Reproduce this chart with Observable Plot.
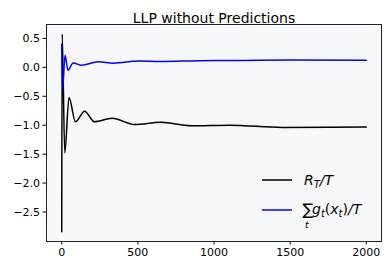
<!DOCTYPE html>
<html>
<head>
<meta charset="utf-8">
<script src="https://cdn.jsdelivr.net/npm/d3@7"></script>
<script src="https://cdn.jsdelivr.net/npm/@observablehq/plot@0.6"></script>
<style>
  html, body { margin: 0; padding: 0; background: #fff; }
  #chart svg { display: block; }
</style>
</head>
<body>
<div id="chart"></div>
<script>
const title = "LLP without Predictions";
// R_T/T series (black)
const regretT = [0, 3, 20, 48, 90, 150, 215, 330, 480, 650, 850, 1100, 1450, 1750, 2000];
const regretV = [-2.84, 0.57, -1.48, -0.52, -0.94, -0.76, -0.94, -0.88, -0.99, -0.95, -1.01, -1.0, -1.04, -1.035, -1.03];
// sum g_t(x_t)/T series (blue)
const gT = [0, 5, 22, 41, 75, 130, 240, 340, 510, 650, 900, 1200, 1500, 2000];
const gV = [0.40, -0.40, 0.21, -0.05, 0.075, 0.035, 0.095, 0.072, 0.11, 0.10, 0.115, 0.12, 0.125, 0.12];
const xTicks = [0, 500, 1000, 1500, 2000];
const yTicks = [0.5, 0.0, -0.5, -1.0, -1.5, -2.0, -2.5];

const black = regretT.map((t, i) => ({t, v: regretV[i]}));
const blue = gT.map((t, i) => ({t, v: gV[i]}));

const fmtY = d => (d < 0 ? "\u2212" : "") + Math.abs(d).toFixed(1);

const plot = Plot.plot({
  width: 389,
  height: 268,
  marginTop: 24,
  marginBottom: 27,
  marginLeft: 46,
  marginRight: 8,
  style: {fontFamily: "DejaVu Sans", fontSize: "11px", color: "#000", background: "#fff"},
  x: {domain: [-100, 2100], ticks: xTicks, tickSize: 3.5, tickPadding: 3, label: null, tickFormat: d => String(d)},
  y: {domain: [-3.01, 0.74], ticks: yTicks, tickSize: 3.5, tickPadding: 3, label: null, tickFormat: fmtY},
  marks: [
    Plot.frame({fill: "#f7f8fb", stroke: null}),
    Plot.line(black, {x: "t", y: "v", stroke: "#000", strokeWidth: 1.5, curve: "monotone-x"}),
    Plot.line(blue, {x: "t", y: "v", stroke: "#0000ff", strokeWidth: 1.5, curve: "monotone-x"}),
    Plot.frame({stroke: "#222", strokeWidth: 1}),
    Plot.text([title], {frameAnchor: "top", dy: -11, fontSize: 14, fill: "#000"})
  ]
});
document.getElementById("chart").appendChild(plot);

// legend (inside lower right, no frame)
const svg = d3.select(plot);
const lg = svg.append("g").attr("font-family", "DejaVu Sans").attr("fill", "#000").attr("text-anchor", "start");
lg.append("line").attr("x1", 262).attr("x2", 292).attr("y1", 180).attr("y2", 180)
  .attr("stroke", "#000").attr("stroke-width", 1.5);
const t1 = lg.append("text").attr("x", 304).attr("y", 185).attr("font-size", 14).attr("font-style", "italic");
t1.append("tspan").text("R");
t1.append("tspan").attr("font-size", 10).attr("dy", 3).text("T");
t1.append("tspan").attr("dy", -3).text("/T");

lg.append("line").attr("x1", 262).attr("x2", 292).attr("y1", 210).attr("y2", 210)
  .attr("stroke", "#0000ff").attr("stroke-width", 1.5);
lg.append("text").attr("x", 302.5).attr("y", 215).attr("font-size", 16).text("\u2211");
lg.append("text").attr("x", 305).attr("y", 228).attr("font-size", 9.5).attr("font-style", "italic").text("t");
const t2 = lg.append("text").attr("x", 312).attr("y", 214).attr("font-size", 14).attr("font-style", "italic");
t2.append("tspan").text("g");
t2.append("tspan").attr("font-size", 10).attr("dy", 3).text("t");
t2.append("tspan").attr("dy", -3).attr("font-style", "normal").text("(");
t2.append("tspan").text("x");
t2.append("tspan").attr("font-size", 10).attr("dy", 3).text("t");
t2.append("tspan").attr("dy", -3).attr("font-style", "normal").text(")");
t2.append("tspan").text("/T");
</script>
</body>
</html>
